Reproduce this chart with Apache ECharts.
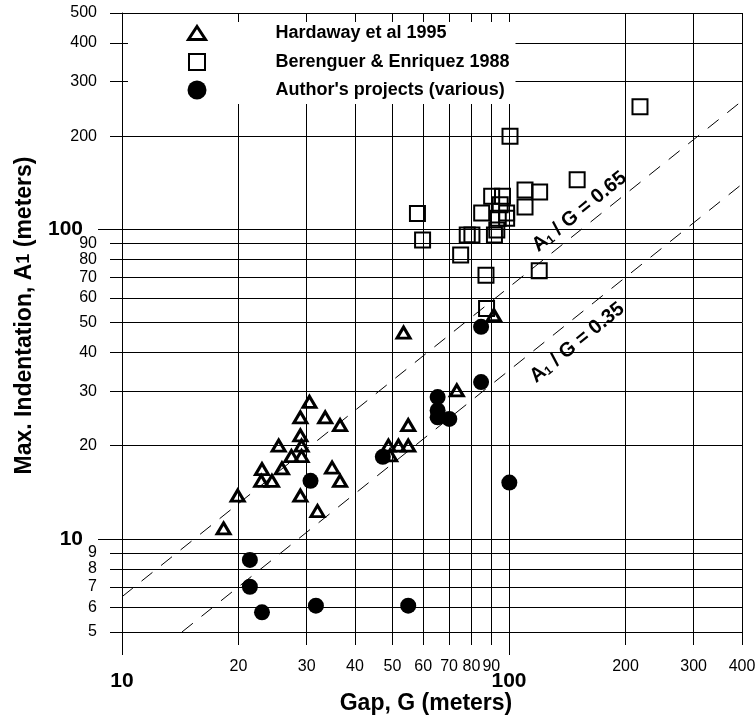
<!DOCTYPE html>
<html>
<head>
<meta charset="utf-8"/>
<title>Max. Indentation vs Gap</title>
<script src="https://cdn.jsdelivr.net/npm/echarts@6/dist/echarts.min.js"></script>
<style type="text/css">
    html, body { margin: 0; padding: 0; background: #fff; }
    #main { width: 756px; height: 722px; }
</style>
</head>
<body>
<div id="main"></div>
<script type="text/javascript">
// Hardaway et al 1995 (triangles)
var hardGap = [18.3, 19.9, 23.0, 22.9, 24.4, 25.4, 25.9, 27.4, 28.9, 28.9, 29.1, 29.1, 28.9, 30.5,
               33.5, 36.6, 34.9, 36.6, 32.0, 53.4, 54.9, 48.8, 51.8, 54.9, 49.3, 73.3, 91.4];
var hardInd = [10.8, 13.8, 16.8, 15.4, 15.4, 20.0, 16.9, 18.5, 24.7, 21.6, 20.0, 18.5, 13.8, 27.7,
               24.7, 23.3, 17.0, 15.4, 12.3, 46.4, 23.3, 20.0, 20.0, 20.0, 18.6, 30.2, 52.8];

// Berenguer & Enriquez 1988 (squares)
var berGap = [218, 100.6, 150, 110, 120, 110, 58, 59.8, 75, 78, 80.2, 87.2, 119.7, 87.5,
              91.7, 93, 85, 90.2, 96.2, 94.9, 98.6, 93.8, 98.6];
var berInd = [249, 200, 144.5, 134, 132, 118, 112.6, 92.3, 82.6, 95.8, 95.8, 71.1, 73.5, 55.5,
              95.8, 99.5, 113, 128, 128, 120, 108.5, 108.5, 113];

// Author's projects (circles)
var autGap = [21.4, 21.4, 23.0, 31.7, 30.7, 47.2, 65.4, 65.4, 65.4, 70.1, 84.7, 84.7, 100.2, 54.9];
var autInd = [8.55, 7.0, 5.79, 6.08, 15.4, 18.4, 28.7, 26.0, 24.7, 24.4, 32.1, 48.4, 15.2, 6.08];

// reference lines A1/G = ratio and where their labels sit (G, A1)
var ratios = [0.65, 0.35];
var ratioLabelGap = [152, 150];
var ratioLabelInd = [114, 43];

// axis ranges and ticks
var xRange = [10, 400];
var yRange = [5, 500];
var xMinorTicks = [20, 30, 40, 50, 60, 70, 80, 90, 200, 300, 400];
var xMajorTicks = [10, 100];
var yMinorTicks = [5, 6, 7, 8, 9, 20, 30, 40, 50, 60, 70, 80, 90, 200, 300, 400, 500];
var yMajorTicks = [10, 100];

var FONT = 'Liberation Sans, Arial, sans-serif';

function lg(v) { return Math.log10(v); }
function pairs(g, a) { return g.map(function (v, i) { return [lg(v), lg(a[i])]; }); }
function fmt(v) { return String(Math.round(Math.pow(10, v))); }

// line from where it enters the plot to where it leaves it
function ratioLine(r) {
    var g0 = Math.max(xRange[0], yRange[0] / r);
    var g1 = Math.min(xRange[1], yRange[1] / r);
    return [[lg(g0), lg(g0 * r)], [lg(g1), lg(g1 * r)]];
}

var myChart = echarts.init(document.getElementById('main'));

var axisLineStyle = { color: '#000', width: 1 };

var series = [];

ratios.forEach(function (r, i) {
    series.push({
        name: 'ratio' + i,
        type: 'line',
        data: ratioLine(r),
        symbol: 'none',
        silent: true,
        z: 1,
        lineStyle: { color: '#000', width: 1, type: [14, 11] }
    });
    series.push({
        name: 'ratioLabel' + i,
        type: 'scatter',
        data: [[lg(ratioLabelGap[i]), lg(ratioLabelInd[i])]],
        symbol: 'circle',
        symbolSize: 1,
        silent: true,
        z: 5,
        itemStyle: { color: 'transparent', opacity: 1 },
        label: {
            show: true,
            position: 'inside',
            rotate: 39,
            formatter: '{a|A}{s|1}{a| / G = ' + r.toFixed(2) + '}',
            rich: {
                a: { fontFamily: FONT, fontWeight: 'bold', fontSize: 20, color: '#000' },
                s: { fontFamily: FONT, fontWeight: 'bold', fontSize: 12, color: '#000', verticalAlign: 'bottom' }
            }
        }
    });
});

series.push({
    name: 'Berenguer & Enriquez 1988',
    type: 'scatter',
    data: pairs(berGap, berInd),
    symbol: 'rect',
    symbolSize: 15,
    z: 2,
    itemStyle: { color: 'transparent', borderColor: '#000', borderWidth: 2, opacity: 1 }
});
series.push({
    name: 'Hardaway et al 1995',
    type: 'scatter',
    data: pairs(hardGap, hardInd),
    symbol: 'triangle',
    symbolSize: [13, 11],
    z: 3,
    itemStyle: { color: 'transparent', borderColor: '#000', borderWidth: 3, opacity: 1 }
});
series.push({
    name: "Author's projects (various)",
    type: 'scatter',
    data: pairs(autGap, autInd),
    symbol: 'circle',
    symbolSize: 16,
    z: 4,
    itemStyle: { color: '#000', opacity: 1 }
});

var option = {
    animation: false,
    backgroundColor: '#fff',
    grid: { left: 122, right: 14, top: 13, bottom: 90, outerBoundsMode: 'none' },
    legend: {
        orient: 'vertical',
        left: 128,
        top: 22,
        padding: [0, 5, 4, 59],
        itemWidth: 19,
        itemHeight: 19,
        itemGap: 7.5,
        backgroundColor: '#fff',
        selectedMode: false,
        textStyle: {
            fontFamily: FONT, fontWeight: 'bold', fontSize: 18, lineHeight: 20,
            width: 235, padding: [0, 0, 0, 64], color: '#000'
        },
        data: [
            {
                name: 'Hardaway et al 1995',
                icon: 'path://M9.5,0L9.5,0M9.5,3L18,16L1,16ZM9.5,19L9.5,19',
                itemStyle: { color: 'transparent', borderColor: '#000', borderWidth: 3, opacity: 1 }
            },
            {
                name: 'Berenguer & Enriquez 1988',
                icon: 'path://M9.5,0L9.5,0M1.5,1.5L17.5,1.5L17.5,17.5L1.5,17.5ZM9.5,19L9.5,19',
                itemStyle: { color: 'transparent', borderColor: '#000', borderWidth: 2, opacity: 1 }
            },
            {
                name: "Author's projects (various)",
                icon: 'circle',
                itemStyle: { color: '#000', opacity: 1 }
            }
        ]
    },
    xAxis: [
        {
            type: 'value',
            position: 'bottom',
            min: lg(xRange[0]),
            max: lg(xRange[1]),
            axisLine: { show: true, onZero: false, lineStyle: axisLineStyle },
            axisTick: { show: true, length: 13, customValues: xMinorTicks.concat(xMajorTicks).map(lg), lineStyle: axisLineStyle },
            axisLabel: { customValues: xMinorTicks.map(lg), formatter: fmt, margin: 27, fontFamily: FONT, fontSize: 16, color: '#000' },
            splitLine: { show: true, lineStyle: axisLineStyle },
            name: 'Gap, G (meters)',
            nameLocation: 'middle',
            nameGap: 60,
            nameTextStyle: { fontFamily: FONT, fontWeight: 'bold', fontSize: 23, color: '#000', padding: [0, 12, 0, 0] }
        },
        {
            type: 'value',
            position: 'bottom',
            offset: 0,
            min: lg(xRange[0]),
            max: lg(xRange[1]),
            axisLine: { show: false, onZero: false },
            axisTick: { show: true, length: 23, customValues: xMajorTicks.map(lg), lineStyle: axisLineStyle },
            axisLabel: { customValues: xMajorTicks.map(lg), formatter: fmt, margin: 39, fontFamily: FONT, fontWeight: 'bold', fontSize: 21, color: '#000' },
            splitLine: { show: false }
        }
    ],
    yAxis: [
        {
            type: 'value',
            position: 'left',
            min: lg(yRange[0]),
            max: lg(yRange[1]),
            axisLine: { show: true, onZero: false, lineStyle: axisLineStyle },
            axisTick: { show: true, length: 12, customValues: yMinorTicks.concat(yMajorTicks).map(lg), lineStyle: axisLineStyle },
            axisLabel: { customValues: yMinorTicks.map(lg), formatter: fmt, margin: 25, fontFamily: FONT, fontSize: 16, color: '#000' },
            splitLine: { show: true, lineStyle: axisLineStyle },
            name: '{n|Max. Indentation, A}{s|1}{n| (meters)}',
            nameLocation: 'middle',
            nameGap: 86,
            nameTextStyle: {
                padding: [0, 0, 0, 14],
                rich: {
                    n: { fontFamily: FONT, fontWeight: 'bold', fontSize: 23, color: '#000' },
                    s: { fontFamily: FONT, fontWeight: 'bold', fontSize: 18, color: '#000' }
                }
            }
        },
        {
            type: 'value',
            position: 'left',
            offset: 0,
            min: lg(yRange[0]),
            max: lg(yRange[1]),
            axisLine: { show: false, onZero: false },
            axisTick: { show: true, length: 24, customValues: yMajorTicks.map(lg), lineStyle: axisLineStyle },
            axisLabel: { customValues: yMajorTicks.map(lg), formatter: fmt, margin: 39, fontFamily: FONT, fontWeight: 'bold', fontSize: 21, color: '#000' },
            splitLine: { show: false }
        }
    ],
    series: series
};

myChart.setOption(option);
</script>
</body>
</html>
